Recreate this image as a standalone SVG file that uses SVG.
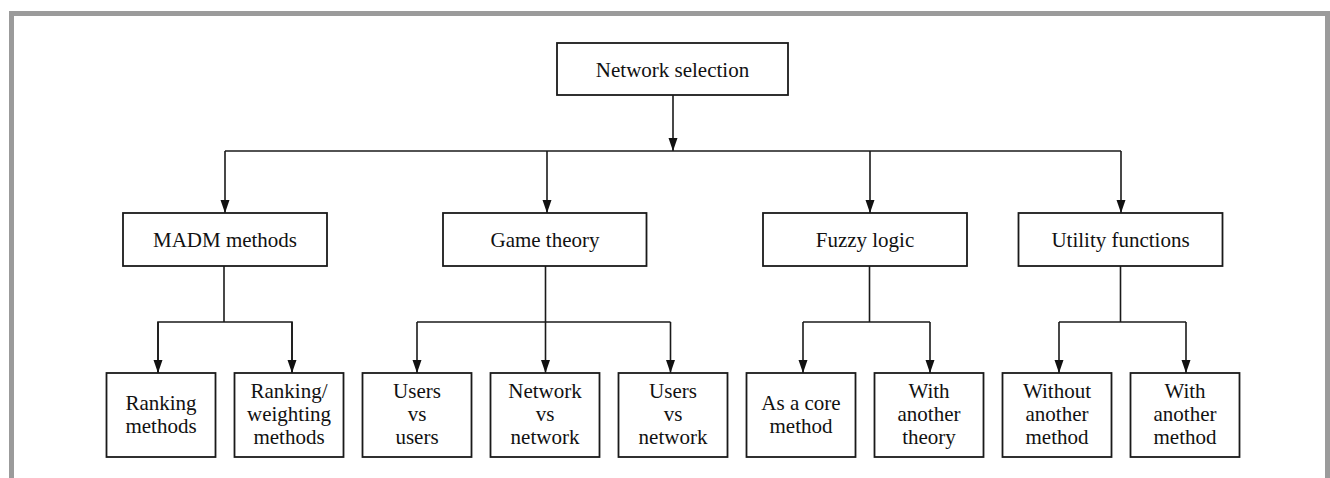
<svg xmlns="http://www.w3.org/2000/svg" width="1330" height="478" viewBox="0 0 1330 478">
  <style>
    .box { fill: #ffffff; stroke: #1a1a1a; stroke-width: 1.8; }
    .lbl { font-family: 'Liberation Serif', 'DejaVu Serif', serif; font-size: 21px; fill: #111111; text-anchor: middle; }
    .wire { fill: none; stroke: #1a1a1a; stroke-width: 1.6; }
    .arrow { fill: none; stroke: #1a1a1a; stroke-width: 1.6; marker-end: url(#head); }
  </style>
  <defs>
    <marker id="head" markerUnits="userSpaceOnUse" markerWidth="14" markerHeight="10" refX="13" refY="4.5" orient="auto">
      <path d="M0,0 L13,4.5 L0,9 Z" fill="#111111"/>
    </marker>
  </defs>

  <rect width="1330" height="478" fill="#ffffff"/>
  <!-- outer frame, open at the bottom -->
  <path d="M11.5,490 V13.5 H1327.5 V490" fill="none" stroke="#9b9b9b" stroke-width="5"/>

  <g id="connectors">
    <!-- root to categories -->
    <line class="arrow" x1="673" y1="95" x2="673" y2="151"/>
    <line class="wire" x1="225" y1="151" x2="1121" y2="151"/>
    <line class="arrow" x1="225" y1="151" x2="225" y2="213"/>
    <line class="arrow" x1="547" y1="151" x2="547" y2="213"/>
    <line class="arrow" x1="870" y1="151" x2="870" y2="213"/>
    <line class="arrow" x1="1121" y1="151" x2="1121" y2="213"/>

    <!-- MADM methods -->
    <line class="wire" x1="224" y1="266" x2="224" y2="322"/>
    <path class="wire" d="M158,372 V322 H292 V372"/>
    <line class="arrow" x1="158" y1="322" x2="158" y2="373"/>
    <line class="arrow" x1="292" y1="322" x2="292" y2="373"/>

    <!-- Game theory -->
    <line class="wire" x1="545.5" y1="266" x2="545.5" y2="322"/>
    <line class="wire" x1="417" y1="322" x2="670.5" y2="322"/>
    <line class="arrow" x1="417" y1="322" x2="417" y2="373"/>
    <line class="arrow" x1="545.5" y1="322" x2="545.5" y2="373"/>
    <line class="arrow" x1="670.5" y1="322" x2="670.5" y2="373"/>

    <!-- Fuzzy logic -->
    <line class="wire" x1="869.5" y1="266" x2="869.5" y2="322"/>
    <line class="wire" x1="803" y1="322" x2="930" y2="322"/>
    <line class="arrow" x1="803" y1="322" x2="803" y2="373"/>
    <line class="arrow" x1="930" y1="322" x2="930" y2="373"/>

    <!-- Utility functions -->
    <line class="wire" x1="1120.5" y1="266" x2="1120.5" y2="322"/>
    <line class="wire" x1="1059" y1="322" x2="1186" y2="322"/>
    <line class="arrow" x1="1059" y1="322" x2="1059" y2="373"/>
    <line class="arrow" x1="1186" y1="322" x2="1186" y2="373"/>
  </g>

  <g id="network-selection">
    <rect class="box" x="557" y="43" width="231" height="52"/>
    <text class="lbl" x="672.5" y="77" font-family="Liberation Serif">Network selection</text>
  </g>

  <g id="madm-methods">
    <rect class="box" x="123" y="213" width="204" height="53"/>
    <text class="lbl" x="225" y="247">MADM methods</text>
  </g>
  <g id="game-theory">
    <rect class="box" x="443" y="213" width="203.5" height="53"/>
    <text class="lbl" x="545" y="247">Game theory</text>
  </g>
  <g id="fuzzy-logic">
    <rect class="box" x="763" y="213" width="204" height="53"/>
    <text class="lbl" x="865" y="247">Fuzzy logic</text>
  </g>
  <g id="utility-functions">
    <rect class="box" x="1018.5" y="213" width="204" height="53"/>
    <text class="lbl" x="1120.5" y="247">Utility functions</text>
  </g>

  <g id="ranking-methods">
    <rect class="box" x="106.5" y="373" width="109" height="84"/>
    <text class="lbl" x="161" y="410">Ranking</text>
    <text class="lbl" x="161" y="433">methods</text>
  </g>
  <g id="ranking-weighting-methods">
    <rect class="box" x="234.5" y="373" width="109" height="84"/>
    <text class="lbl" x="289" y="398">Ranking/</text>
    <text class="lbl" x="289" y="421">weighting</text>
    <text class="lbl" x="289" y="444">methods</text>
  </g>
  <g id="users-vs-users">
    <rect class="box" x="362.5" y="373" width="109" height="84"/>
    <text class="lbl" x="417" y="398">Users</text>
    <text class="lbl" x="417" y="421">vs</text>
    <text class="lbl" x="417" y="444">users</text>
  </g>
  <g id="network-vs-network">
    <rect class="box" x="490.5" y="373" width="109" height="84"/>
    <text class="lbl" x="545" y="398">Network</text>
    <text class="lbl" x="545" y="421">vs</text>
    <text class="lbl" x="545" y="444">network</text>
  </g>
  <g id="users-vs-network">
    <rect class="box" x="618.5" y="373" width="109" height="84"/>
    <text class="lbl" x="673" y="398">Users</text>
    <text class="lbl" x="673" y="421">vs</text>
    <text class="lbl" x="673" y="444">network</text>
  </g>
  <g id="as-a-core-method">
    <rect class="box" x="746.5" y="373" width="109" height="84"/>
    <text class="lbl" x="801" y="410">As a core</text>
    <text class="lbl" x="801" y="433">method</text>
  </g>
  <g id="with-another-theory">
    <rect class="box" x="874.5" y="373" width="109" height="84"/>
    <text class="lbl" x="929" y="398">With</text>
    <text class="lbl" x="929" y="421">another</text>
    <text class="lbl" x="929" y="444">theory</text>
  </g>
  <g id="without-another-method">
    <rect class="box" x="1002.5" y="373" width="109" height="84"/>
    <text class="lbl" x="1057" y="398">Without</text>
    <text class="lbl" x="1057" y="421">another</text>
    <text class="lbl" x="1057" y="444">method</text>
  </g>
  <g id="with-another-method">
    <rect class="box" x="1130.5" y="373" width="109" height="84"/>
    <text class="lbl" x="1185" y="398">With</text>
    <text class="lbl" x="1185" y="421">another</text>
    <text class="lbl" x="1185" y="444">method</text>
  </g>
</svg>
